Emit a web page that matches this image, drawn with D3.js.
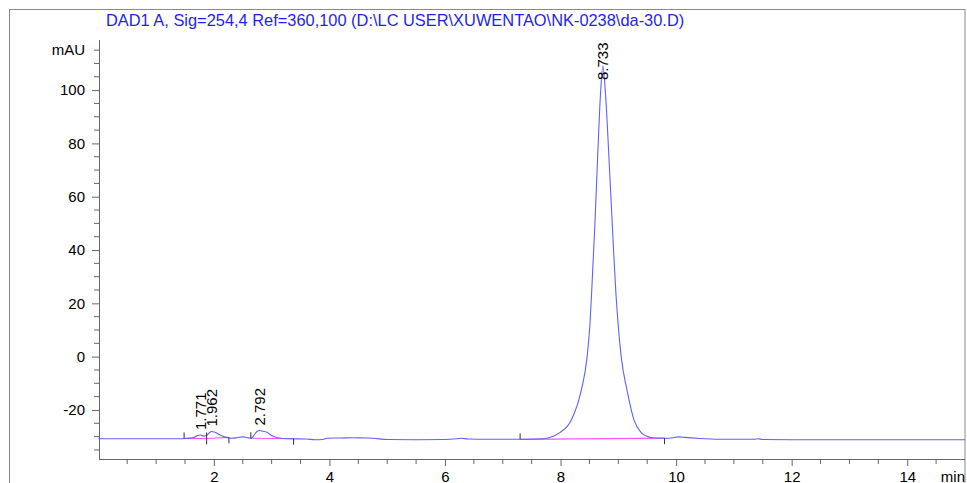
<!DOCTYPE html>
<html>
<head>
<meta charset="utf-8">
<script src="https://cdn.jsdelivr.net/npm/d3@7"></script>
<style>
  body { margin: 0; background: #fff; }
  svg text { font-family: "Liberation Sans", Arial, sans-serif; }
</style>
</head>
<body>
<svg id="vis" width="967" height="483"></svg>
<script>
// signal trace (min, mAU)
var times = [0.00, 1.40, 1.50, 1.65, 1.72, 1.77, 1.82, 1.87, 1.92, 1.96, 2.02, 2.10, 2.20, 2.30, 2.40,
  2.50, 2.58, 2.65, 2.70, 2.75, 2.79, 2.85, 2.92, 3.00, 3.10, 3.30, 3.60, 3.75, 3.90, 3.95, 4.20, 4.40,
  4.60, 4.75, 5.00, 5.50, 6.00, 6.20, 6.28, 6.40, 6.80, 7.30, 7.60, 7.80, 7.98, 8.19, 8.36,
  8.46, 8.51, 8.54, 8.59, 8.64, 8.69, 8.733, 8.78, 8.84, 8.90, 8.955, 8.995, 9.05, 9.15, 9.27,
  9.40, 9.52, 9.62, 9.80, 9.95, 10.05, 10.15, 10.40, 10.75, 11.35, 11.42, 11.50, 12.00, 15.00];
var signal = [-30.8, -30.8, -30.7, -30.3, -29.6, -29.4, -29.8, -29.6, -28.6, -28.1, -28.4, -29.3, -30.2, -30.6, -30.4,
  -30.1, -30.4, -30.6, -29.3, -28.0, -27.7, -28.0, -28.4, -29.6, -30.4, -30.8, -30.9, -31.2, -31.0, -30.6, -30.5, -30.4,
  -30.5, -30.6, -31.1, -31.2, -31.1, -30.8, -30.6, -30.9, -31.0, -31.0, -30.9, -30.4, -28.6, -23.7, -12.5,
  -0.1, 12.6, 24.9, 47.5, 73.7, 98.0, 109.0, 98.0, 73.7, 47.5, 24.9, 12.6, -0.1, -12.5, -23.7,
  -28.6, -30.1, -30.5, -30.6, -30.4, -30.1, -30.3, -30.7, -31.0, -31.0, -30.8, -31.1, -31.2, -31.2];

// integrated peaks
var peakRT = [1.771, 1.962, 2.792, 8.733];
var peakApex = [-29.4, -28.1, -27.7, 109.0];
var peakStart = [1.485, 1.875, 2.64, 7.30];
var peakEnd = [1.875, 2.26, 3.38, 9.80];
var baseStart = [-30.7, -30.7, -30.6, -31.0];
var baseEnd = [-30.7, -30.3, -30.8, -30.6];

var yTicks = [-20, 0, 20, 40, 60, 80, 100];
var xTicks = [2, 4, 6, 8, 10, 12, 14];
var title = "DAD1 A, Sig=254,4 Ref=360,100 (D:\\LC USER\\XUWENTAO\\NK-0238\\da-30.D)";

var svg = d3.select("#vis");
var plotLeft = 99, plotRight = 965, plotTop = 40, plotBottom = 459;

var xScale = d3.scaleLinear().domain([0, 15]).range([98.3, 965]);
var yScale = d3.scaleLinear().domain([-38.4, 118.8]).range([plotBottom, plotTop]);

svg.append("rect").attr("width", 967).attr("height", 483).attr("fill", "#fff");

// outer frame
svg.append("rect")
  .attr("x", 9.5).attr("y", 9.5)
  .attr("width", 955.5).attr("height", 520)
  .attr("fill", "none").attr("stroke", "#8a8a8a").attr("stroke-width", 1);

svg.append("text")
  .text(title)
  .attr("x", 106).attr("y", 26)
  .style("font-size", "16.4px")
  .style("fill", "#1f1ff0");

// y axis
var minorY = d3.range(-35, 120, 5).filter(v => v % 20 !== 0);
var yAxisG = svg.append("g").attr("transform", `translate(${plotLeft},0)`);
yAxisG.call(d3.axisLeft(yScale).tickValues(yTicks).tickFormat(d => String(d))
  .tickSize(7).tickPadding(7).tickSizeOuter(0));
yAxisG.selectAll(".minor")
  .data(minorY).enter().append("line")
  .attr("x1", -5).attr("x2", 0)
  .attr("y1", d => yScale(d)).attr("y2", d => yScale(d))
  .attr("stroke", "#666");
yAxisG.select(".domain").attr("d", `M0.5,${plotTop}V${plotBottom}`);

yAxisG.append("text")
  .text("mAU")
  .attr("x", -14).attr("y", yScale(115)).attr("dy", "0.32em")
  .attr("text-anchor", "end")
  .style("font-size", "15px").style("fill", "#000");

// x axis
var minorX = d3.range(0.5, 15, 0.5).filter(v => v % 2 !== 0);
var xAxisG = svg.append("g").attr("transform", `translate(0,${plotBottom})`);
xAxisG.call(d3.axisBottom(xScale).tickValues(xTicks).tickFormat(d => String(d))
  .tickSize(7).tickPadding(5).tickSizeOuter(0));
xAxisG.selectAll(".minor")
  .data(minorX).enter().append("line")
  .attr("y1", 0).attr("y2", 5)
  .attr("x1", d => xScale(d)).attr("x2", d => xScale(d))
  .attr("stroke", "#666");
xAxisG.select(".domain").attr("d", `M${plotLeft},0.5H${plotRight}`);

xAxisG.append("text")
  .text("min")
  .attr("x", plotRight).attr("y", 23)
  .attr("text-anchor", "end")
  .style("font-size", "15px").style("fill", "#000");

svg.selectAll(".domain").attr("stroke", "#666");
svg.selectAll(".tick line").attr("stroke", "#666");
svg.selectAll(".tick text").style("font-size", "15px").style("fill", "#000")
  .style("font-family", "'Liberation Sans', Arial, sans-serif");

// baselines of integration
var peaks = peakRT.map((rt, i) => ({
  rt: rt, apex: peakApex[i], s: peakStart[i], e: peakEnd[i], bs: baseStart[i], be: baseEnd[i]
}));

svg.append("g").selectAll("line")
  .data(peaks).enter().append("line")
  .attr("x1", d => xScale(d.s)).attr("y1", d => yScale(d.bs))
  .attr("x2", d => xScale(d.e)).attr("y2", d => yScale(d.be))
  .attr("stroke", "#ff55ff").attr("stroke-width", 1.2);

// trace
var trace = times.map((t, i) => [t, signal[i]]);
svg.append("path")
  .datum(trace)
  .attr("d", d3.line().x(d => xScale(d[0])).y(d => yScale(d[1])).curve(d3.curveMonotoneX))
  .attr("fill", "none")
  .attr("stroke", "#6060ff")
  .attr("stroke-width", 1.1);

// start/stop markers
svg.append("g").selectAll("line")
  .data(peaks).enter().append("line")
  .attr("x1", d => xScale(d.s)).attr("x2", d => xScale(d.s))
  .attr("y1", d => yScale(d.bs) - 6).attr("y2", d => yScale(d.bs))
  .attr("stroke", "#333");
svg.append("g").selectAll("line")
  .data(peaks).enter().append("line")
  .attr("x1", d => xScale(d.e)).attr("x2", d => xScale(d.e))
  .attr("y1", d => yScale(d.be)).attr("y2", d => yScale(d.be) + 6)
  .attr("stroke", "#333");

// retention time labels
svg.append("g").selectAll("text")
  .data(peaks).enter().append("text")
  .text(d => d.rt.toFixed(3))
  .attr("transform", function(d) {
    var len = this.getComputedTextLength();
    var ly = Math.max(yScale(d.apex) - 5, plotTop + len);
    return `translate(${xScale(d.rt)},${ly}) rotate(-90)`;
  })
  .attr("dy", "0.35em")
  .style("font-size", "15px")
  .style("fill", "#000");
</script>
</body>
</html>
